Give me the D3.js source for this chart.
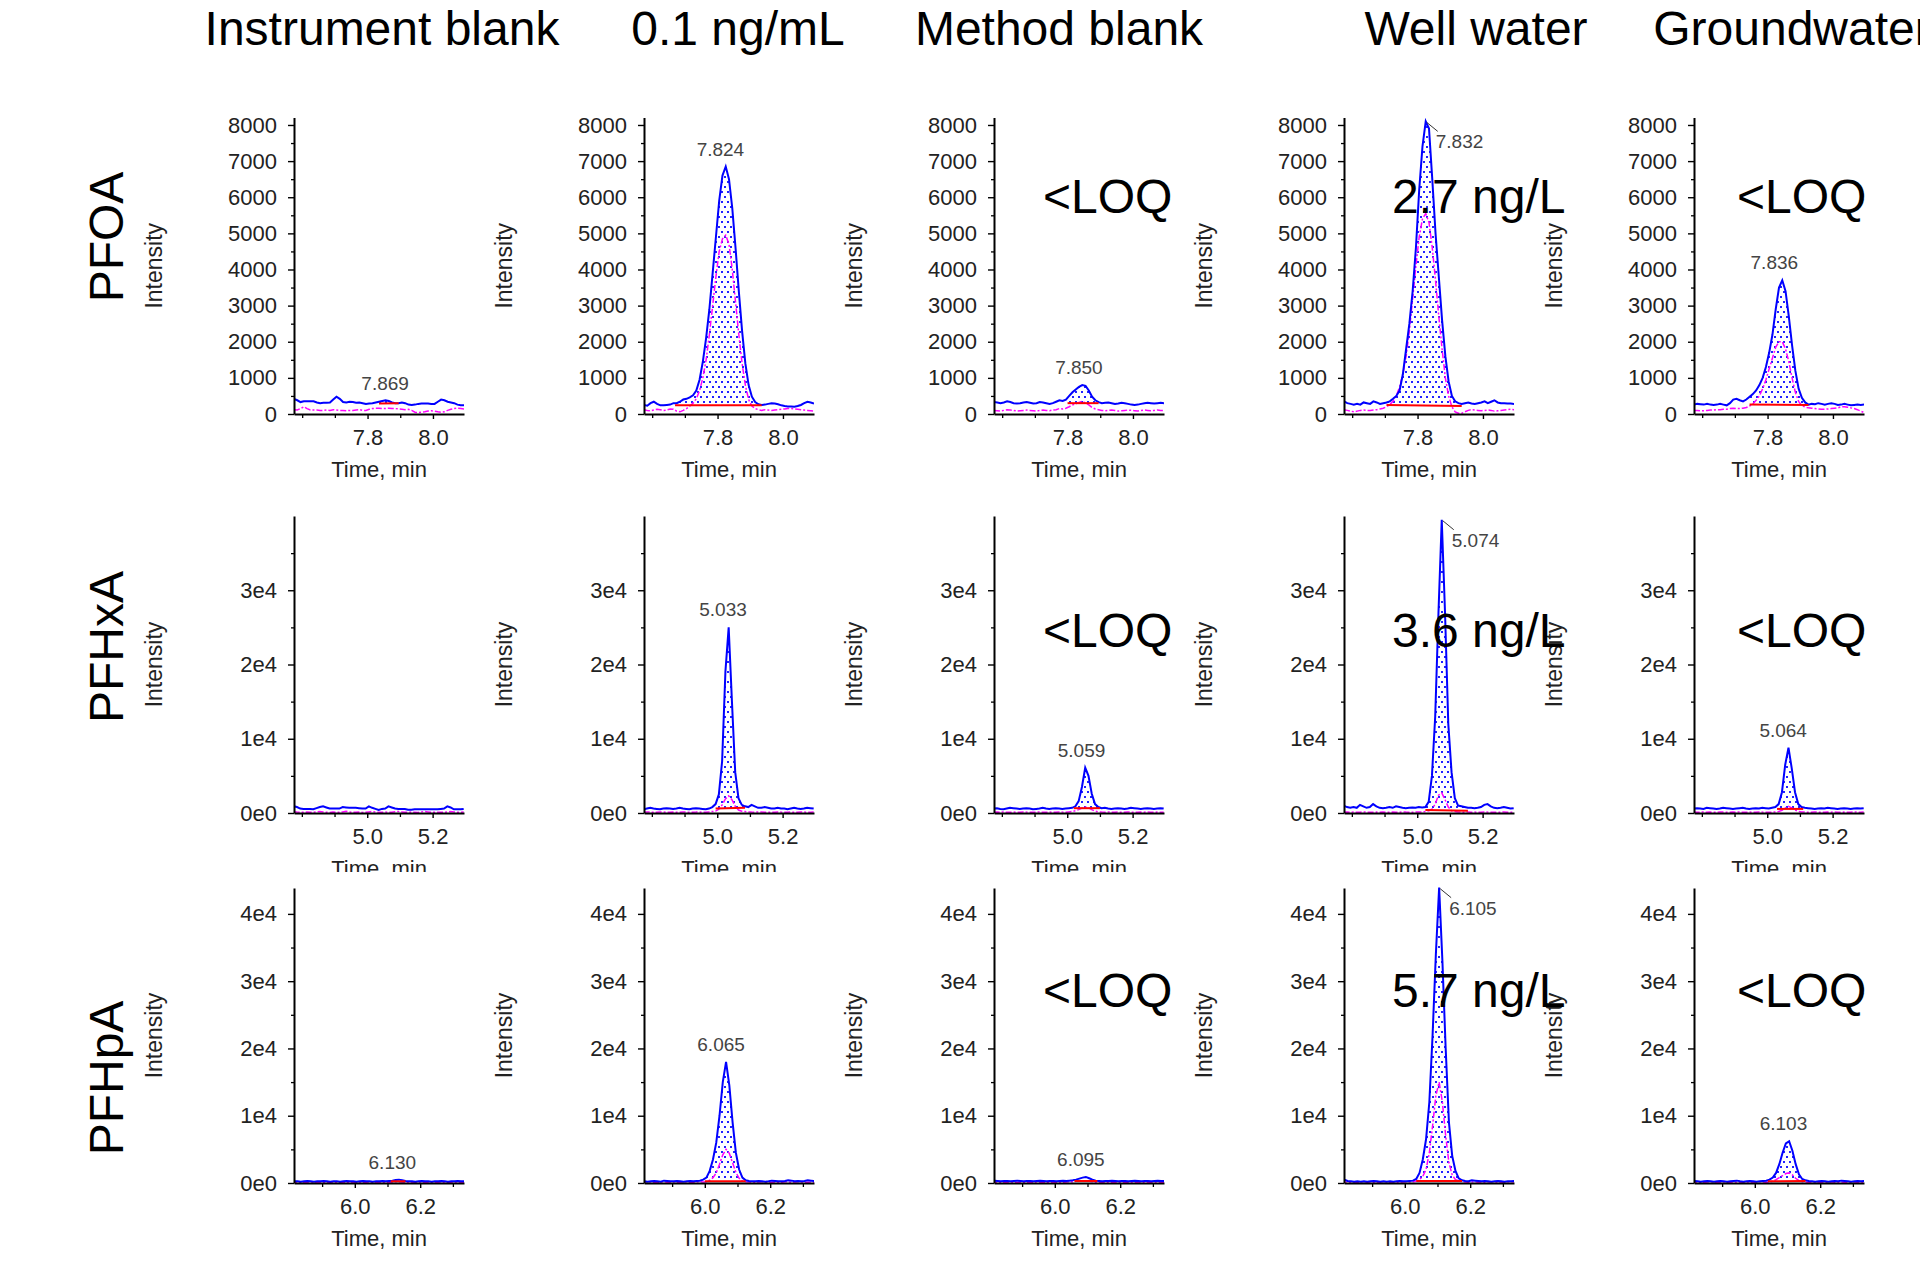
<!DOCTYPE html>
<html>
<head>
<meta charset="utf-8">
<script src="https://cdn.jsdelivr.net/npm/d3@7"></script>
<style>
  body { margin: 0; background: #fff; }
  svg { display: block; }
  text { font-family: "Liberation Sans", Arial, sans-serif; }
</style>
</head>
<body>
<div id="vis"></div>
<script>
// column and row headings
const columnTitles = ["Instrument blank", "0.1 ng/mL", "Method blank", "Well water", "Groundwater"];
const compoundNames = ["PFOA", "PFHxA", "PFHpA"];

// PFOA (retention time in min, intensity in cps)
const pfoaTime = [7.575,7.585,7.595,7.605,7.615,7.625,7.635,7.645,7.655,7.665,7.675,7.685,7.695,7.705,7.715,7.725,7.735,7.745,7.755,7.765,7.775,7.785,7.795,7.805,7.815,7.825,7.835,7.845,7.855,7.865,7.875,7.885,7.895,7.905,7.915,7.925,7.935,7.945,7.955,7.965,7.975,7.985,7.995,8.005,8.015,8.025,8.035,8.045,8.055,8.065,8.075,8.085,8.095];
const pfoaInstBlue = [420,380,330,350,350,350,350,320,300,310,310,320,400,480,420,330,320,340,330,310,320,300,280,290,300,320,340,360,380,360,320,300,300,320,300,260,250,260,280,290,290,290,280,280,340,400,380,340,320,300,260,240,240];
const pfoaInstPink = [120,110,150,200,150,110,110,110,100,100,110,100,120,110,100,100,90,100,100,110,120,100,100,130,150,160,160,150,150,160,150,150,140,130,120,130,100,50,40,50,60,80,90,80,60,50,60,100,130,150,160,150,140];
const pfoaStdBlue = [250,230,300,340,280,240,240,250,260,300,300,340,400,420,460,520,650,950,1450,2100,2900,3900,4900,5900,6600,6850,6500,5700,4600,3400,2300,1400,800,480,330,270,250,260,280,300,290,270,240,220,210,210,200,220,250,300,340,320,290];
const pfoaStdPink = [120,100,90,110,130,120,100,110,140,130,80,60,100,150,220,300,420,650,1000,1500,2200,3000,3800,4500,4850,4950,4700,4000,3100,2200,1400,800,400,220,150,120,100,120,110,100,110,120,130,140,150,150,140,130,120,110,100,90,80];
const pfoaMethBlue = [330,320,300,320,350,330,300,290,300,320,330,310,290,300,330,320,300,280,300,340,380,360,400,500,600,680,750,800,780,650,480,380,330,300,310,320,300,280,290,310,300,280,260,250,260,280,300,310,300,290,300,310,300];
const pfoaMethPink = [100,90,80,100,120,110,100,80,90,100,110,100,90,80,100,110,100,90,110,120,150,140,160,200,250,280,320,350,300,250,180,140,120,100,90,100,110,100,80,90,100,110,100,90,80,100,110,100,90,100,110,100,100];
const pfoaWellBlue = [350,300,280,260,280,260,320,300,280,350,320,280,300,320,350,420,500,650,1100,1800,2500,3400,4600,6200,7400,8100,7900,6500,5000,3800,2600,1600,900,500,350,300,280,300,320,290,280,300,320,350,300,340,380,320,300,300,290,290,280];
const pfoaWellPink = [120,100,80,60,80,100,110,100,100,110,120,140,160,200,260,350,500,750,1100,1600,2300,3200,4100,4900,5400,5550,5300,4600,3700,2700,1800,1000,500,200,60,20,20,60,100,120,110,100,90,100,110,100,80,90,100,110,120,130,120];
const pfoaGrndBlue = [260,280,270,260,280,260,250,260,280,260,240,300,400,420,380,350,400,480,550,650,800,1000,1300,1700,2200,2900,3500,3700,3400,2700,1900,1200,700,450,320,260,280,270,300,280,260,280,300,280,250,260,280,260,240,250,260,250,260];
const pfoaGrndPink = [100,100,90,90,100,110,110,120,120,130,130,150,160,150,150,160,180,220,280,380,500,700,950,1250,1550,1850,2000,2000,1800,1450,1000,600,350,230,190,170,160,150,140,130,130,140,150,160,170,200,200,190,170,150,120,80,40];
// integration baseline: [start time, start intensity, end time, end intensity]
const pfoaBase = [[7.835,290,7.895,300], [7.67,240,7.935,240], [7.80,300,7.895,300], [7.705,250,7.935,220], [7.745,260,7.925,250]];
const pfoaPeaks = ["7.869", "7.824", "7.850", "7.832", "7.836"];
const pfoaResults = [null, null, "<LOQ", "2.7 ng/L", "<LOQ"];
const pfoaYTicks = [0, 1000, 2000, 3000, 4000, 5000, 6000, 7000, 8000];
const pfoaXTicks = [7.8, 8.0];

// PFHxA
const pfhxaTime = [4.775,4.785,4.795,4.805,4.815,4.825,4.835,4.845,4.855,4.865,4.875,4.885,4.895,4.905,4.915,4.925,4.935,4.945,4.955,4.965,4.975,4.985,4.995,5.005,5.015,5.025,5.035,5.045,5.055,5.065,5.075,5.085,5.095,5.105,5.115,5.125,5.135,5.145,5.155,5.165,5.175,5.185,5.195,5.205,5.215,5.225,5.235,5.245,5.255,5.265,5.275,5.285,5.295];
const pfhxaInstBlue = [900,800,600,550,550,550,500,650,800,900,750,600,600,600,600,800,750,700,700,700,650,600,600,900,700,550,400,550,600,900,750,600,550,550,550,450,450,500,500,500,500,500,500,500,500,550,600,900,750,500,500,500,550];
const pfhxaInstPink = [150,120,100,100,120,100,100,150,200,150,100,80,120,100,90,150,220,150,100,100,120,80,100,150,200,130,100,90,120,100,100,160,200,150,100,90,120,100,80,150,210,150,100,100,110,90,100,150,200,140,100,100,120];
const pfhxaStdBlue = [500,600,700,600,550,500,600,650,600,550,600,700,600,550,500,600,650,600,550,500,600,800,1200,2500,7000,19000,25000,15000,5500,2000,1100,900,800,1100,900,700,700,800,700,600,600,700,600,600,500,600,700,600,550,600,700,650,600];
const pfhxaStdPink = [100,150,120,100,100,130,150,100,100,120,100,100,150,130,100,100,120,150,100,100,150,200,250,500,1100,1900,2300,1800,900,400,250,200,150,120,100,150,130,100,100,120,100,150,120,100,100,130,100,100,150,120,100,100,120];
const pfhxaMethBlue = [600,650,550,500,600,700,650,600,550,600,650,600,500,550,600,700,600,550,600,650,600,550,600,650,700,900,1600,3500,6100,5000,2600,1200,800,650,700,600,550,600,650,600,550,600,700,650,600,550,600,650,600,550,600,650,600];
const pfhxaMethPink = [100,120,100,150,100,100,120,100,100,150,120,100,100,120,150,100,100,120,100,100,150,120,100,150,200,300,450,650,800,700,450,250,150,120,100,150,100,100,120,100,100,150,120,100,100,120,100,150,100,100,120,100,100];
const pfhxaWellBlue = [1000,800,700,800,700,1100,900,700,800,1200,900,700,650,700,800,700,900,800,700,650,700,750,700,800,750,800,1500,5000,13000,27000,39500,27000,12000,5500,2000,1000,900,800,700,700,650,700,800,1100,1200,900,700,650,700,800,700,600,650];
const pfhxaWellPink = [100,150,100,120,100,100,150,120,100,100,120,100,150,100,100,120,100,100,150,120,100,100,120,150,150,200,300,500,1200,2400,2700,1800,800,300,200,150,120,100,150,100,120,100,100,150,120,100,100,120,100,150,100,100,120];
const pfhxaGrndBlue = [600,650,600,550,700,650,600,550,600,700,650,600,550,600,650,700,600,550,600,650,600,700,650,600,700,800,1200,2800,6500,8800,6000,2800,1200,800,700,650,600,550,600,650,600,700,650,600,550,600,650,600,550,600,650,600,650];
const pfhxaGrndPink = [120,100,100,150,100,120,100,100,150,120,100,100,120,100,150,100,100,120,100,100,150,120,100,100,120,150,200,350,650,900,700,400,200,150,120,100,100,150,120,100,100,120,100,150,100,100,120,100,100,150,120,100,120];
const pfhxaBase = [null, [4.995,600,5.085,700], [5.02,650,5.10,650], [5.025,400,5.155,300], [5.03,550,5.11,550]];
const pfhxaPeaks = [null, "5.033", "5.059", "5.074", "5.064"];
const pfhxaResults = [null, null, "<LOQ", "3.6 ng/L", "<LOQ"];
const pfhxaYTicks = [0, 10000, 20000, 30000];
const pfhxaXTicks = [5.0, 5.2];

// PFHpA
const pfhpaTime = [5.805,5.815,5.825,5.835,5.845,5.855,5.865,5.875,5.885,5.895,5.905,5.915,5.925,5.935,5.945,5.955,5.965,5.975,5.985,5.995,6.005,6.015,6.025,6.035,6.045,6.055,6.065,6.075,6.085,6.095,6.105,6.115,6.125,6.135,6.145,6.155,6.165,6.175,6.185,6.195,6.205,6.215,6.225,6.235,6.245,6.255,6.265,6.275,6.285,6.295,6.305,6.315,6.325,6.335];
const pfhpaInstBlue = [300,250,250,200,250,300,250,200,250,250,300,250,200,250,250,200,250,300,250,250,200,250,300,250,250,200,250,250,300,250,300,350,450,500,400,300,250,250,200,250,300,250,250,200,250,250,300,250,200,250,250,300,250,250];
const pfhpaInstPink = [100,80,120,100,90,110,150,100,80,100,120,90,100,140,110,80,100,120,100,90,130,100,80,110,150,100,90,120,100,80,110,140,180,200,160,120,100,90,110,130,100,80,100,120,90,110,140,100,80,100,120,100,90,100];
const pfhpaStdBlue = [300,250,200,250,300,250,200,350,300,250,250,300,250,200,250,300,250,300,350,500,800,1800,3500,6000,10000,15000,18000,14500,9000,4500,2000,800,400,300,250,250,300,250,200,250,350,300,250,250,300,400,350,250,300,250,300,400,350,300];
const pfhpaStdPink = [100,150,200,150,100,100,150,200,100,100,150,100,100,200,150,100,100,150,200,150,200,400,800,1500,2800,4200,5000,4400,3000,1600,700,300,200,150,100,100,150,200,150,100,100,150,100,100,200,150,100,150,200,150,100,100,150,100];
const pfhpaMethBlue = [300,350,300,250,300,300,250,300,350,300,250,300,300,250,300,350,300,250,300,300,250,300,350,300,350,400,500,650,800,900,700,500,350,300,250,300,300,350,300,250,300,300,250,300,350,300,250,300,300,250,300,350,300,300];
const pfhpaMethPink = [100,120,100,80,100,120,150,100,80,100,120,100,80,100,150,100,100,120,80,100,100,120,100,150,180,200,250,300,320,300,250,180,120,100,80,100,120,100,150,100,80,100,120,100,100,150,100,80,100,120,100,100,80,100];
const pfhpaWellBlue = [900,500,300,250,200,250,200,250,200,250,300,250,200,250,200,250,200,250,300,250,250,300,350,600,1500,3500,6500,12000,22000,34000,43900,33000,20000,9000,4000,1800,700,400,300,250,400,350,300,250,300,250,200,250,300,250,200,250,250,300];
const pfhpaWellPink = [300,200,150,100,150,100,150,200,100,150,100,100,150,200,150,100,150,100,100,150,200,150,200,300,500,1000,2000,4500,8500,13000,15000,12000,7000,3000,1200,500,300,200,150,100,150,200,100,150,100,150,200,150,100,150,100,150,200,150];
const pfhpaGrndBlue = [250,300,250,200,250,300,250,200,250,300,250,200,250,300,350,250,200,250,300,250,200,250,300,350,500,800,1500,2800,4500,5900,6200,4800,2800,1300,600,400,300,250,200,250,300,250,200,250,300,250,350,300,250,200,250,300,250,300];
const pfhpaGrndPink = [100,150,100,80,100,150,200,100,80,100,150,100,100,150,100,80,100,150,100,100,150,200,150,100,150,250,500,800,1100,1400,1500,1200,700,350,200,150,100,100,150,100,80,100,150,200,100,100,150,100,80,100,150,100,100,100];
const pfhpaBase = [[6.11,250,6.155,250], [6.0,250,6.125,250], [6.06,300,6.13,300], [6.035,300,6.175,300], [6.04,250,6.155,300]];
const pfhpaPeaks = ["6.130", "6.065", "6.095", "6.105", "6.103"];
const pfhpaResults = [null, null, "<LOQ", "5.7 ng/L", "<LOQ"];
const pfhpaYTicks = [0, 10000, 20000, 30000, 40000];
const pfhpaXTicks = [6.0, 6.2];

// tabelle pro Zeile zusammenbauen
const expFmt = d => d === 0 ? "0e0" : (d / 10000) + "e4";
const rows = [
    {name: compoundNames[0], time: pfoaTime, base: pfoaBase, peaks: pfoaPeaks, results: pfoaResults,
     blue: [pfoaInstBlue, pfoaStdBlue, pfoaMethBlue, pfoaWellBlue, pfoaGrndBlue],
     pink: [pfoaInstPink, pfoaStdPink, pfoaMethPink, pfoaWellPink, pfoaGrndPink],
     yTicks: pfoaYTicks, xTicks: pfoaXTicks, fmt: d => d, minor: 500},
    {name: compoundNames[1], time: pfhxaTime, base: pfhxaBase, peaks: pfhxaPeaks, results: pfhxaResults,
     blue: [pfhxaInstBlue, pfhxaStdBlue, pfhxaMethBlue, pfhxaWellBlue, pfhxaGrndBlue],
     pink: [pfhxaInstPink, pfhxaStdPink, pfhxaMethPink, pfhxaWellPink, pfhxaGrndPink],
     yTicks: pfhxaYTicks, xTicks: pfhxaXTicks, fmt: expFmt, minor: 5000},
    {name: compoundNames[2], time: pfhpaTime, base: pfhpaBase, peaks: pfhpaPeaks, results: pfhpaResults,
     blue: [pfhpaInstBlue, pfhpaStdBlue, pfhpaMethBlue, pfhpaWellBlue, pfhpaGrndBlue],
     pink: [pfhpaInstPink, pfhpaStdPink, pfhpaMethPink, pfhpaWellPink, pfhpaGrndPink],
     yTicks: pfhpaYTicks, xTicks: pfhpaXTicks, fmt: expFmt, minor: 5000}
];

// Layout (Pixel)
const layout = [
    {top: 117.5, bottom: 414, yMax: 8207, x0: 7.575, nameY: 237, resultY: 213},
    {top: 516, bottom: 813, yMax: 40000, x0: 4.776, nameY: 647, resultY: 647, clipBottom: 872},
    {top: 888, bottom: 1183, yMax: 43850, x0: 5.814, nameY: 1078, resultY: 1007}
];
const titleX = [382, 738, 1059, 1476, 1792];
const resultDx = [0, 0, 49, 48, 43];
const plotW = 170, span = 0.52;

const svg = d3.select("#vis").append("svg")
    .attr("width", 1920)
    .attr("height", 1266);

// punktiertes Füllmuster (versetzte Reihen)
const defs = svg.append("defs");
const pat = defs.append("pattern")
    .attr("id", "dots")
    .attr("patternUnits", "userSpaceOnUse")
    .attr("width", 6).attr("height", 10);
pat.append("rect").attr("x", 1).attr("y", 1).attr("width", 2).attr("height", 2).attr("fill", "#2222ff");
pat.append("rect").attr("x", 4).attr("y", 6).attr("width", 2).attr("height", 2).attr("fill", "#2222ff");

// Spaltentitel
svg.selectAll(".coltitle")
    .data(columnTitles)
  .enter().append("text")
    .attr("class", "coltitle")
    .attr("x", (d, i) => titleX[i])
    .attr("y", 45)
    .attr("text-anchor", "middle")
    .style("font-size", "48px")
    .text(d => d);

const overlay = [];

rows.forEach((row, r) => {
    const L = layout[r];
    const y = d3.scaleLinear().domain([0, L.yMax]).range([L.bottom, L.top]);

    // Zeilenname
    svg.append("text")
        .attr("transform", `translate(123,${L.nameY}) rotate(-90)`)
        .attr("text-anchor", "middle")
        .style("font-size", "48px")
        .text(row.name);

    columnTitles.forEach((col, c) => {
        const ax = 294 + 350 * c;
        const x = d3.scaleLinear().domain([L.x0, L.x0 + span]).range([ax, ax + plotW]);
        const g = svg.append("g");

        const clipId = `clip-${r}-${c}`;
        defs.append("clipPath").attr("id", clipId)
          .append("rect")
            .attr("x", ax).attr("y", L.top - 6)
            .attr("width", plotW).attr("height", L.bottom - L.top + 6);

        const plot = g.append("g").attr("clip-path", `url(#${clipId})`);
        const blue = row.blue[c].map((v, i) => [row.time[i], v]);
        const pink = row.pink[c].map((v, i) => [row.time[i], v]);
        const line = d3.line().x(d => x(d[0])).y(d => y(d[1]));

        // integrierte Fläche (punktiert)
        const b = row.base[c];
        if (b) {
            const inside = blue.filter(d => d[0] >= b[0] && d[0] <= b[2]);
            const poly = [[b[0], b[1]], ...inside, [b[2], b[3]]];
            plot.append("path")
                .attr("d", line(poly) + "Z")
                .attr("fill", "url(#dots)");
        }

        plot.append("path")
            .attr("d", line(pink))
            .attr("fill", "none")
            .attr("stroke", "#ff00ff")
            .attr("stroke-width", 1.5)
            .attr("stroke-dasharray", "6 2 2 2");

        plot.append("path")
            .attr("d", line(blue))
            .attr("fill", "none")
            .attr("stroke", "#0000ff")
            .attr("stroke-width", 2);

        if (b) {
            plot.append("line")
                .attr("x1", x(b[0])).attr("y1", y(b[1]))
                .attr("x2", x(b[2])).attr("y2", y(b[3]))
                .attr("stroke", "#ff0000")
                .attr("stroke-width", 2);
        }

        // y-Achse
        const minorY = d3.range(row.minor, L.yMax, row.minor).filter(v => !row.yTicks.includes(v));
        g.append("g")
            .attr("transform", `translate(${ax},0)`)
            .call(d3.axisLeft(y).tickValues(minorY).tickSize(3).tickFormat(""))
            .call(s => s.select(".domain").remove())
            .selectAll("line").attr("stroke", "#000").attr("stroke-width", 1.3);
        const yAxis = g.append("g")
            .attr("transform", `translate(${ax},0)`)
            .call(d3.axisLeft(y).tickValues(row.yTicks).tickSize(6).tickSizeOuter(0).tickPadding(11).tickFormat(row.fmt));

        // x-Achse
        const x1 = L.x0 + span;
        const minorX = d3.range(Math.ceil(L.x0 * 10), Math.floor(x1 * 10) + 1).map(k => k / 10)
            .filter(v => !row.xTicks.some(t => Math.abs(t - v) < 1e-6));
        g.append("g")
            .attr("transform", `translate(0,${L.bottom})`)
            .call(d3.axisBottom(x).tickValues(minorX).tickSize(4).tickFormat(""))
            .call(s => s.select(".domain").remove())
            .selectAll("line").attr("stroke", "#000").attr("stroke-width", 1.3);
        const xAxis = g.append("g")
            .attr("transform", `translate(0,${L.bottom})`)
            .call(d3.axisBottom(x).tickValues(row.xTicks).tickSize(5).tickSizeOuter(0).tickPadding(10).tickFormat(d3.format(".1f")));

        [yAxis, xAxis].forEach(a => {
            a.attr("font-family", null).attr("font-size", null);
            a.select(".domain").attr("stroke", "#000").attr("stroke-width", 2);
            a.selectAll(".tick line").attr("stroke", "#000").attr("stroke-width", 1.4);
            a.selectAll(".tick text").style("font-size", "22px").attr("fill", "#222");
        });

        // Achsentitel
        const tt = g.append("text")
            .attr("x", ax + plotW / 2)
            .attr("y", L.bottom + 63)
            .attr("text-anchor", "middle")
            .style("font-size", "22px")
            .attr("fill", "#222")
            .text("Time, min");
        if (L.clipBottom) {
            const cid = `tclip-${r}-${c}`;
            defs.append("clipPath").attr("id", cid)
              .append("rect").attr("x", 0).attr("y", 0).attr("width", 1920).attr("height", L.clipBottom);
            tt.attr("clip-path", `url(#${cid})`);
        }

        g.append("text")
            .attr("transform", `translate(${ax - 132},${(L.top + L.bottom) / 2}) rotate(-90)`)
            .attr("text-anchor", "middle")
            .style("font-size", "23px")
            .attr("fill", "#222")
            .text("Intensity");

        // Peak-Beschriftung
        if (row.peaks[c]) {
            const rt = +row.peaks[c];
            let best = null;
            blue.forEach(d => {
                if (Math.abs(d[0] - rt) <= 0.012 && (!best || d[1] > best[1])) best = d;
            });
            const px = x(best[0]), py = y(best[1]);
            if (py - L.top < 30) {
                g.append("line")
                    .attr("x1", px + 1).attr("y1", py + 1)
                    .attr("x2", px + 12).attr("y2", py + 10)
                    .attr("stroke", "#333").attr("stroke-width", 1);
                g.append("text")
                    .attr("x", px + 10).attr("y", py + 27)
                    .style("font-size", "19px").attr("fill", "#444")
                    .text(row.peaks[c]);
            } else {
                g.append("text")
                    .attr("x", x(rt) - 5).attr("y", py - 11)
                    .attr("text-anchor", "middle")
                    .style("font-size", "19px").attr("fill", "#444")
                    .text(row.peaks[c]);
            }
        }

        if (row.results[c]) overlay.push({x: ax + resultDx[c], y: L.resultY, text: row.results[c]});
    });
});

// Ergebnisse oben drauf
svg.selectAll(".result")
    .data(overlay)
  .enter().append("text")
    .attr("class", "result")
    .attr("x", d => d.x)
    .attr("y", d => d.y)
    .style("font-size", "48px")
    .text(d => d.text);
</script>
</body>
</html>
